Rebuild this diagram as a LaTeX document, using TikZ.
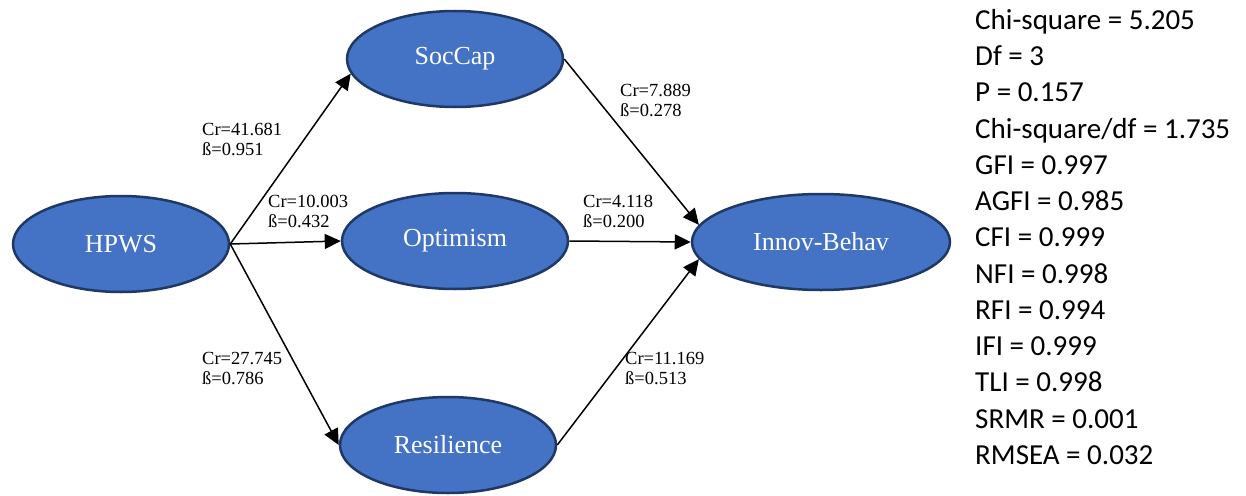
\documentclass[tikz,border=0pt]{standalone}
\usepackage{fontspec}
\setmainfont{Liberation Serif}
\newfontfamily\fitfont{Carlito}
\usetikzlibrary{shapes.geometric,arrows.meta}
\definecolor{latentblue}{HTML}{4472C4}
\definecolor{latentedge}{HTML}{1F3864}
\begin{document}
\begin{tikzpicture}[x=1pt,y=-1pt,
  latent/.style={ellipse, draw=latentedge, line width=2.5pt, fill=latentblue, text=white,
    inner sep=0pt, minimum width=216pt, minimum height=96pt, font=\fontsize{26}{30}\selectfont},
  effect/.style={line width=1.5pt, -{Triangle[length=16pt,width=15pt]}},
  coef/.style={anchor=north west, inner sep=0pt, align=left, font=\fontsize{18.5}{20}\selectfont}]
\useasboundingbox (0,0) rectangle (1246,495);
% latent variables
\node[latent] (hpws) at (121,244) {HPWS};
\node[latent] (soccap) at (455,59) {SocCap};
\node[latent, minimum width=226pt] (optimism) at (455,241) {Optimism};
\node[latent] (resilience) at (448,445) {Resilience};
\node[latent, minimum width=258pt] (innov) at (821,242) {Innov-Behav};
% paths
\draw[effect] (hpws.east) -- (soccap.188);
\draw[effect] (hpws.east) -- (optimism.west);
\draw[effect] (hpws.east) -- (resilience.west);
\draw[effect] (soccap.east) -- (innov.172);
\draw[effect] (optimism.east) -- (innov.west);
\draw[effect] (resilience.east) -- (innov.188);
% estimates
\node[coef] (c1) at (202,123) {Cr=41.681\\ß=0.951};
\node[coef] (c2) at (268,195) {Cr=10.003\\ß=0.432};
\node[coef] (c3) at (202,352) {Cr=27.745\\ß=0.786};
\node[coef] (c4) at (620,84) {Cr=7.889\\ß=0.278};
\node[coef] (c5) at (583,195) {Cr=4.118\\ß=0.200};
\node[coef] (c6) at (625,352) {Cr=11.169\\ß=0.513};
% model fit
\node[anchor=north west, inner sep=0pt, align=left, font=\fitfont\fontsize{29}{36.25}\selectfont]
  (fit) at (975,9) {Chi-square = 5.205\\Df = 3\\P = 0.157\\Chi-square/df = 1.735\\GFI = 0.997\\
  AGFI = 0.985\\CFI = 0.999\\NFI = 0.998\\RFI = 0.994\\IFI = 0.999\\TLI = 0.998\\
  SRMR = 0.001\\RMSEA = 0.032};
\end{tikzpicture}
\end{document}
